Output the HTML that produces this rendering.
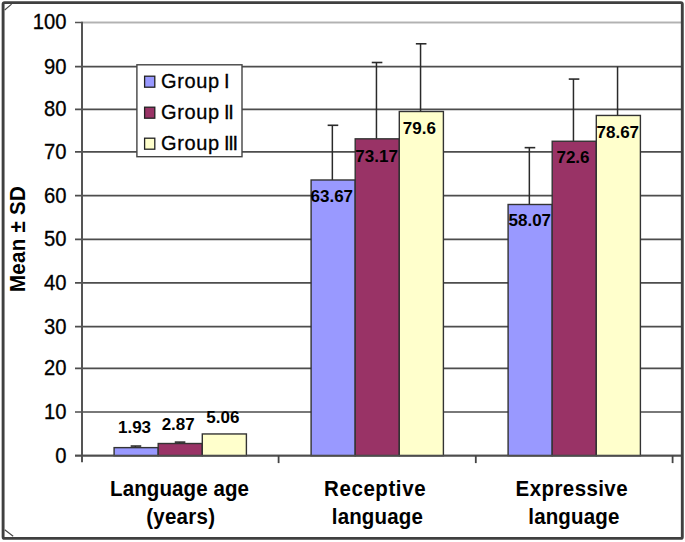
<!DOCTYPE html>
<html><head><meta charset="utf-8"><style>
html,body{margin:0;padding:0;background:#fff;width:685px;height:542px;overflow:hidden;}
svg{display:block;}
text{font-family:"Liberation Sans",sans-serif;}
</style></head><body>
<svg width="685" height="542" viewBox="0 0 685 542">
<rect x="0" y="0" width="685" height="542" fill="#fff"/>
<line x1="75.0" y1="455.65" x2="681.0" y2="455.65" stroke="#4d4d4d" stroke-width="1.7"/>
<line x1="75.0" y1="412.00" x2="681.0" y2="412.00" stroke="#4d4d4d" stroke-width="1.7"/>
<line x1="75.0" y1="368.30" x2="681.0" y2="368.30" stroke="#4d4d4d" stroke-width="1.7"/>
<line x1="75.0" y1="326.70" x2="681.0" y2="326.70" stroke="#4d4d4d" stroke-width="1.7"/>
<line x1="75.0" y1="282.80" x2="681.0" y2="282.80" stroke="#4d4d4d" stroke-width="1.7"/>
<line x1="75.0" y1="239.40" x2="681.0" y2="239.40" stroke="#4d4d4d" stroke-width="1.7"/>
<line x1="75.0" y1="195.65" x2="681.0" y2="195.65" stroke="#4d4d4d" stroke-width="1.7"/>
<line x1="75.0" y1="151.90" x2="681.0" y2="151.90" stroke="#4d4d4d" stroke-width="1.7"/>
<line x1="75.0" y1="109.40" x2="681.0" y2="109.40" stroke="#4d4d4d" stroke-width="1.7"/>
<line x1="75.0" y1="66.70" x2="681.0" y2="66.70" stroke="#4d4d4d" stroke-width="1.7"/>
<line x1="75.0" y1="22.45" x2="681.0" y2="22.45" stroke="#555" stroke-width="1.6"/>
<line x1="82.0" y1="22.45" x2="681.0" y2="22.45" stroke="#fff" stroke-opacity="0.55" stroke-width="1.6"/>
<line x1="82.0" y1="21.65" x2="82.0" y2="462.3" stroke="#555" stroke-width="2"/>
<line x1="135.35" y1="447.63" x2="135.35" y2="446.05" stroke="#2a2a2a" stroke-width="1.5"/>
<line x1="130.65" y1="446.05" x2="141.25" y2="446.05" stroke="#2a2a2a" stroke-width="1.6"/>
<rect x="114.10" y="447.63" width="44.10" height="8.02" fill="#9999FF" stroke="#333" stroke-width="1.4"/>
<line x1="179.45" y1="443.52" x2="179.45" y2="442.12" stroke="#2a2a2a" stroke-width="1.5"/>
<line x1="174.75" y1="442.12" x2="185.35" y2="442.12" stroke="#2a2a2a" stroke-width="1.6"/>
<rect x="158.20" y="443.52" width="44.10" height="12.13" fill="#993366" stroke="#333" stroke-width="1.4"/>
<rect x="202.30" y="433.96" width="44.10" height="21.69" fill="#FFFFCC" stroke="#333" stroke-width="1.4"/>
<line x1="332.35" y1="179.99" x2="332.35" y2="125.29" stroke="#2a2a2a" stroke-width="1.5"/>
<line x1="327.65" y1="125.29" x2="338.25" y2="125.29" stroke="#2a2a2a" stroke-width="1.6"/>
<rect x="311.10" y="179.99" width="44.10" height="275.66" fill="#9999FF" stroke="#333" stroke-width="1.4"/>
<line x1="376.45" y1="138.83" x2="376.45" y2="62.50" stroke="#2a2a2a" stroke-width="1.5"/>
<line x1="371.75" y1="62.50" x2="382.35" y2="62.50" stroke="#2a2a2a" stroke-width="1.6"/>
<rect x="355.20" y="138.83" width="44.10" height="316.82" fill="#993366" stroke="#333" stroke-width="1.4"/>
<line x1="420.55" y1="111.50" x2="420.55" y2="43.78" stroke="#2a2a2a" stroke-width="1.5"/>
<line x1="415.85" y1="43.78" x2="426.45" y2="43.78" stroke="#2a2a2a" stroke-width="1.6"/>
<rect x="399.30" y="111.50" width="44.10" height="344.15" fill="#FFFFCC" stroke="#333" stroke-width="1.4"/>
<line x1="529.35" y1="204.49" x2="529.35" y2="147.65" stroke="#2a2a2a" stroke-width="1.5"/>
<line x1="524.65" y1="147.65" x2="535.25" y2="147.65" stroke="#2a2a2a" stroke-width="1.6"/>
<rect x="508.10" y="204.49" width="44.10" height="251.16" fill="#9999FF" stroke="#333" stroke-width="1.4"/>
<line x1="573.45" y1="141.25" x2="573.45" y2="79.08" stroke="#2a2a2a" stroke-width="1.5"/>
<line x1="568.75" y1="79.08" x2="579.35" y2="79.08" stroke="#2a2a2a" stroke-width="1.6"/>
<rect x="552.20" y="141.25" width="44.10" height="314.40" fill="#993366" stroke="#333" stroke-width="1.4"/>
<line x1="617.55" y1="115.45" x2="617.55" y2="66.70" stroke="#2a2a2a" stroke-width="1.5"/>
<rect x="596.30" y="115.45" width="44.10" height="340.20" fill="#FFFFCC" stroke="#333" stroke-width="1.4"/>
<line x1="75.0" y1="455.65" x2="681.0" y2="455.65" stroke="#4d4d4d" stroke-width="1.7"/>
<line x1="278.6" y1="455.65" x2="278.6" y2="463.1" stroke="#444" stroke-width="1.8"/>
<line x1="475.8" y1="455.65" x2="475.8" y2="463.1" stroke="#444" stroke-width="1.8"/>
<line x1="672.6" y1="455.65" x2="672.6" y2="463.1" stroke="#444" stroke-width="1.8"/>
<text x="134.5" y="432.7" text-anchor="middle" font-family="Liberation Sans" font-weight="bold" font-size="17" fill="#000">1.93</text>
<text x="178.2" y="429.9" text-anchor="middle" font-family="Liberation Sans" font-weight="bold" font-size="17" fill="#000">2.87</text>
<text x="222.9" y="422.9" text-anchor="middle" font-family="Liberation Sans" font-weight="bold" font-size="17" fill="#000">5.06</text>
<text x="331.8" y="202.4" text-anchor="middle" font-family="Liberation Sans" font-weight="bold" font-size="17" fill="#000">63.67</text>
<text x="376.6" y="161.7" text-anchor="middle" font-family="Liberation Sans" font-weight="bold" font-size="17" fill="#000">73.17</text>
<text x="419.4" y="133.7" text-anchor="middle" font-family="Liberation Sans" font-weight="bold" font-size="17" fill="#000">79.6</text>
<text x="529.8" y="226.2" text-anchor="middle" font-family="Liberation Sans" font-weight="bold" font-size="17" fill="#000">58.07</text>
<text x="573.0" y="163.1" text-anchor="middle" font-family="Liberation Sans" font-weight="bold" font-size="17" fill="#000">72.6</text>
<text x="617.8" y="138.3" text-anchor="middle" font-family="Liberation Sans" font-weight="bold" font-size="17" fill="#000">78.67</text>
<text transform="translate(66.5,462.60) scale(1,1.05)" text-anchor="end" font-family="Liberation Sans" font-size="20.2" fill="#000" stroke="#000" stroke-width="0.3">0</text>
<text transform="translate(66.5,418.95) scale(1,1.05)" text-anchor="end" font-family="Liberation Sans" font-size="20.2" fill="#000" stroke="#000" stroke-width="0.3">10</text>
<text transform="translate(66.5,375.25) scale(1,1.05)" text-anchor="end" font-family="Liberation Sans" font-size="20.2" fill="#000" stroke="#000" stroke-width="0.3">20</text>
<text transform="translate(66.5,333.65) scale(1,1.05)" text-anchor="end" font-family="Liberation Sans" font-size="20.2" fill="#000" stroke="#000" stroke-width="0.3">30</text>
<text transform="translate(66.5,289.75) scale(1,1.05)" text-anchor="end" font-family="Liberation Sans" font-size="20.2" fill="#000" stroke="#000" stroke-width="0.3">40</text>
<text transform="translate(66.5,246.35) scale(1,1.05)" text-anchor="end" font-family="Liberation Sans" font-size="20.2" fill="#000" stroke="#000" stroke-width="0.3">50</text>
<text transform="translate(66.5,202.60) scale(1,1.05)" text-anchor="end" font-family="Liberation Sans" font-size="20.2" fill="#000" stroke="#000" stroke-width="0.3">60</text>
<text transform="translate(66.5,158.85) scale(1,1.05)" text-anchor="end" font-family="Liberation Sans" font-size="20.2" fill="#000" stroke="#000" stroke-width="0.3">70</text>
<text transform="translate(66.5,116.35) scale(1,1.05)" text-anchor="end" font-family="Liberation Sans" font-size="20.2" fill="#000" stroke="#000" stroke-width="0.3">80</text>
<text transform="translate(66.5,73.65) scale(1,1.05)" text-anchor="end" font-family="Liberation Sans" font-size="20.2" fill="#000" stroke="#000" stroke-width="0.3">90</text>
<text transform="translate(66.5,29.40) scale(1,1.05)" text-anchor="end" font-family="Liberation Sans" font-size="20.2" fill="#000" stroke="#000" stroke-width="0.3">100</text>
<text transform="translate(25.0,239.1) rotate(-90) scale(1,1.07)" text-anchor="middle" textLength="106" lengthAdjust="spacing" font-family="Liberation Sans" font-weight="bold" font-size="20.5" fill="#000">Mean ± SD</text>
<text transform="translate(179.5,495.7) scale(1,1.08)" text-anchor="middle" textLength="139.0" lengthAdjust="spacing" font-family="Liberation Sans" font-weight="bold" font-size="20.5" fill="#000">Language age</text>
<text transform="translate(180.6,523.8) scale(1,1.08)" text-anchor="middle" textLength="68.8" lengthAdjust="spacing" font-family="Liberation Sans" font-weight="bold" font-size="20.5" fill="#000">(years)</text>
<text transform="translate(374.8,495.7) scale(1,1.08)" text-anchor="middle" textLength="101.5" lengthAdjust="spacing" font-family="Liberation Sans" font-weight="bold" font-size="20.5" fill="#000">Receptive</text>
<text transform="translate(377.3,523.8) scale(1,1.08)" text-anchor="middle" textLength="91.0" lengthAdjust="spacing" font-family="Liberation Sans" font-weight="bold" font-size="20.5" fill="#000">language</text>
<text transform="translate(571.6,495.7) scale(1,1.08)" text-anchor="middle" textLength="112.0" lengthAdjust="spacing" font-family="Liberation Sans" font-weight="bold" font-size="20.5" fill="#000">Expressive</text>
<text transform="translate(573.8,523.8) scale(1,1.08)" text-anchor="middle" textLength="91.0" lengthAdjust="spacing" font-family="Liberation Sans" font-weight="bold" font-size="20.5" fill="#000">language</text>
<rect x="136.9" y="64.8" width="105.1" height="91.9" fill="#fff" stroke="#444" stroke-width="1.4"/>
<rect x="144.6" y="76.20" width="10.2" height="11.0" fill="#9999FF" stroke="#222" stroke-width="1.3"/>
<text transform="translate(160.9,87.90) scale(1,1.04)" textLength="58.3" lengthAdjust="spacing" font-family="Liberation Sans" font-size="20" fill="#000" stroke="#000" stroke-width="0.3">Group</text>
<text transform="translate(223.90,87.90) scale(1,1.04)" font-family="Liberation Sans" font-size="20" fill="#000" stroke="#000" stroke-width="0.3">I</text>
<rect x="144.6" y="107.20" width="10.2" height="11.0" fill="#993366" stroke="#222" stroke-width="1.3"/>
<text transform="translate(160.9,118.90) scale(1,1.04)" textLength="58.3" lengthAdjust="spacing" font-family="Liberation Sans" font-size="20" fill="#000" stroke="#000" stroke-width="0.3">Group</text>
<text transform="translate(223.90,118.90) scale(1,1.04)" font-family="Liberation Sans" font-size="20" fill="#000" stroke="#000" stroke-width="0.3">I</text>
<text transform="translate(228.25,118.90) scale(1,1.04)" font-family="Liberation Sans" font-size="20" fill="#000" stroke="#000" stroke-width="0.3">I</text>
<rect x="144.6" y="138.20" width="10.2" height="11.0" fill="#FFFFCC" stroke="#222" stroke-width="1.3"/>
<text transform="translate(160.9,149.90) scale(1,1.04)" textLength="58.3" lengthAdjust="spacing" font-family="Liberation Sans" font-size="20" fill="#000" stroke="#000" stroke-width="0.3">Group</text>
<text transform="translate(223.90,149.90) scale(1,1.04)" font-family="Liberation Sans" font-size="20" fill="#000" stroke="#000" stroke-width="0.3">I</text>
<text transform="translate(228.25,149.90) scale(1,1.04)" font-family="Liberation Sans" font-size="20" fill="#000" stroke="#000" stroke-width="0.3">I</text>
<text transform="translate(232.60,149.90) scale(1,1.04)" font-family="Liberation Sans" font-size="20" fill="#000" stroke="#000" stroke-width="0.3">I</text>
<path d="M4.7 10 L11.6 4.1 M4.7 529.7 L13.2 536.3" stroke="#444" stroke-width="1.1" fill="none"/>
<rect x="3.1" y="2.6" width="679.2" height="535.8" rx="1.5" fill="none" stroke="#404040" stroke-width="2.9"/>
</svg>
</body></html>
